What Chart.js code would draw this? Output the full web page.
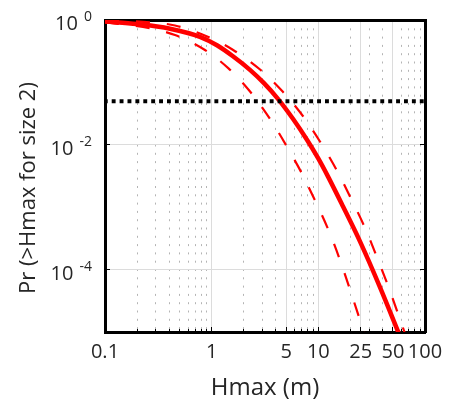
<!DOCTYPE html>
<html>
<head>
<meta charset="utf-8">
<script src="https://cdn.jsdelivr.net/npm/chart.js@4"></script>
<style>
  html, body { margin: 0; padding: 0; background: #fff; }
</style>
</head>
<body>
<canvas id="probChart" width="460" height="404"></canvas>
<script>
// --- data ---
const medianX = [0.1, 0.1995, 0.4066, 0.777, 1.121, 1.583, 2.286, 3.092, 4.182, 5.78, 7.82, 9.92, 12.3, 17.0, 24.5, 37.8, 55.7, 64.8];
const medianY = [0.946, 0.86, 0.726, 0.538, 0.394, 0.2625, 0.159, 0.0974, 0.0546, 0.02616, 0.01207, 0.00617, 0.00312, 0.001034, 0.000286, 0.0000525, 0.00001034, 0.00000545];

const upperX = [0.1, 0.213, 0.453, 0.884, 1.59, 2.88, 4.63, 7.22, 10.35, 14.8, 19.8, 27.4, 35.2, 45.2, 56.1, 64.9];
const upperY = [0.989, 0.939, 0.817, 0.555, 0.331, 0.158, 0.0713, 0.0284, 0.0113, 0.00398, 0.00149, 0.000465, 0.000163, 0.000054, 0.0000193, 0.00000946];

const lowerX = [0.1, 0.227, 0.453, 0.865, 1.43, 2.29, 3.57, 5.22, 6.97, 8.96, 12.4, 15.9, 19.8, 24.5, 27.9];
const lowerY = [0.912, 0.773, 0.575, 0.331, 0.169, 0.0713, 0.0251, 0.0086, 0.00354, 0.00147, 0.000437, 0.000145, 0.0000479, 0.0000158, 0.00000799];

const thresholdX = [0.1, 100];
const thresholdY = 0.05;

const xTicks = [0.1, 1, 5, 10, 25, 50, 100];
const xMinorTicks = [0.2, 0.3, 0.4, 0.5, 0.6, 0.7, 0.8, 0.9, 2, 3, 4, 6, 7, 8, 9, 20, 30, 40, 60, 70, 80, 90];
const yTicks = [1, 1e-2, 1e-4];
const yTickExp = ['0', '-2', '-4'];

const xTitle = 'Hmax (m)';
const yTitle = 'Pr (>Hmax for size 2)';

const FONT = '"Open Sans", "Noto Sans", sans-serif';
const TEXT = '#262626';

const toPoints = (xs, ys) => xs.map((x, i) => ({ x: x, y: ys[i] }));

// y labels as 10 with a superscript exponent, plus the rotated y title
const axisText = {
    id: 'axisText',
    afterDraw(chart) {
        const ctx = chart.ctx;
        const ys = chart.scales.y;
        const right = ys.right - 13;
        ctx.save();
        ctx.fillStyle = TEXT;
        ctx.textBaseline = 'middle';
        ctx.textAlign = 'right';
        yTicks.forEach((v, i) => {
            const py = ys.getPixelForValue(v);
            ctx.font = '14px ' + FONT;
            const w = ctx.measureText(yTickExp[i]).width;
            ctx.fillText(yTickExp[i], right, py - 3);
            ctx.font = '20px ' + FONT;
            ctx.fillText('10', right - w - 6, py + 4.5);
        });
        ctx.translate(29, (ys.top + ys.bottom) / 2 + 12);
        ctx.rotate(-Math.PI / 2);
        ctx.textAlign = 'center';
        ctx.font = '22px ' + FONT;
        ctx.fillText(yTitle, 0, 0);
        ctx.restore();
    }
};

const ctx = document.getElementById('probChart').getContext('2d');
const chart = new Chart(ctx, {
    type: 'line',
    data: {
        datasets: [
            {
                label: 'threshold',
                data: thresholdX.map(x => ({ x: x, y: thresholdY })),
                borderColor: '#000',
                borderWidth: 4,
                borderDash: [3.9, 4],
                borderDashOffset: 1.2,
                borderCapStyle: 'butt',
                pointRadius: 0
            },
            {
                label: 'median',
                data: toPoints(medianX, medianY),
                borderColor: '#ff0000',
                borderWidth: 4.5,
                pointRadius: 0,
                cubicInterpolationMode: 'monotone'
            },
            {
                label: 'upper',
                data: toPoints(upperX, upperY),
                borderColor: '#ff0000',
                borderWidth: 2.2,
                borderDash: [14, 17],
                pointRadius: 0,
                cubicInterpolationMode: 'monotone'
            },
            {
                label: 'lower',
                data: toPoints(lowerX, lowerY),
                borderColor: '#ff0000',
                borderWidth: 2.2,
                borderDash: [14, 17],
                pointRadius: 0,
                cubicInterpolationMode: 'monotone'
            }
        ]
    },
    options: {
        responsive: false,
        animation: false,
        devicePixelRatio: 1,
        layout: { padding: { left: 0, right: 35, top: 20, bottom: 0 } },
        plugins: { legend: { display: false }, tooltip: { enabled: false } },
        scales: {
            x: {
                type: 'logarithmic',
                position: 'bottom',
                weight: 1,
                min: 0.1,
                max: 100,
                afterBuildTicks: s => { s.ticks = xTicks.map(v => ({ value: v })); },
                afterFit: s => { s.height = 72; },
                ticks: {
                    autoSkip: false,
                    maxRotation: 0,
                    padding: 13,
                    color: TEXT,
                    font: { family: FONT, size: 20 },
                    callback: v => String(v)
                },
                grid: { color: '#dcdcdc', lineWidth: 1, tickLength: -5, tickColor: '#000' },
                border: { display: true, color: '#000', width: 3 },
                title: {
                    display: true,
                    text: xTitle,
                    color: TEXT,
                    font: { family: FONT, size: 24 },
                    padding: { top: 0, bottom: 1 }
                }
            },
            xMinor: {
                type: 'logarithmic',
                position: 'bottom',
                weight: 0,
                min: 0.1,
                max: 100,
                afterBuildTicks: s => { s.ticks = xMinorTicks.map(v => ({ value: v })); },
                afterFit: s => { s.height = 0; },
                ticks: { display: false },
                grid: { color: '#b4b4b4', lineWidth: 1, tickLength: -3, tickColor: '#000', tickBorderDash: [] },
                border: { display: false, dash: [2, 6.3] }
            },
            xTop: {
                type: 'logarithmic',
                position: 'top',
                min: 0.1,
                max: 100,
                afterFit: s => { s.height = 0; },
                ticks: { display: false },
                grid: { drawOnChartArea: false, drawTicks: false },
                border: { display: true, color: '#000', width: 3 }
            },
            y: {
                type: 'logarithmic',
                position: 'left',
                min: 1e-5,
                max: 1,
                afterBuildTicks: s => { s.ticks = yTicks.map(v => ({ value: v })); },
                afterFit: s => { s.width = 105; },
                ticks: { display: false },
                grid: { color: '#dcdcdc', lineWidth: 1, tickLength: -5, tickColor: '#000' },
                border: { display: true, color: '#000', width: 3 }
            },
            yRight: {
                type: 'logarithmic',
                position: 'right',
                min: 1e-5,
                max: 1,
                afterBuildTicks: s => { s.ticks = yTicks.map(v => ({ value: v })); },
                afterFit: s => { s.width = 0; },
                ticks: { display: false },
                grid: { drawOnChartArea: false, tickLength: -5, tickColor: '#000' },
                border: { display: true, color: '#000', width: 3 }
            }
        }
    },
    plugins: [axisText]
});
</script>
</body>
</html>
